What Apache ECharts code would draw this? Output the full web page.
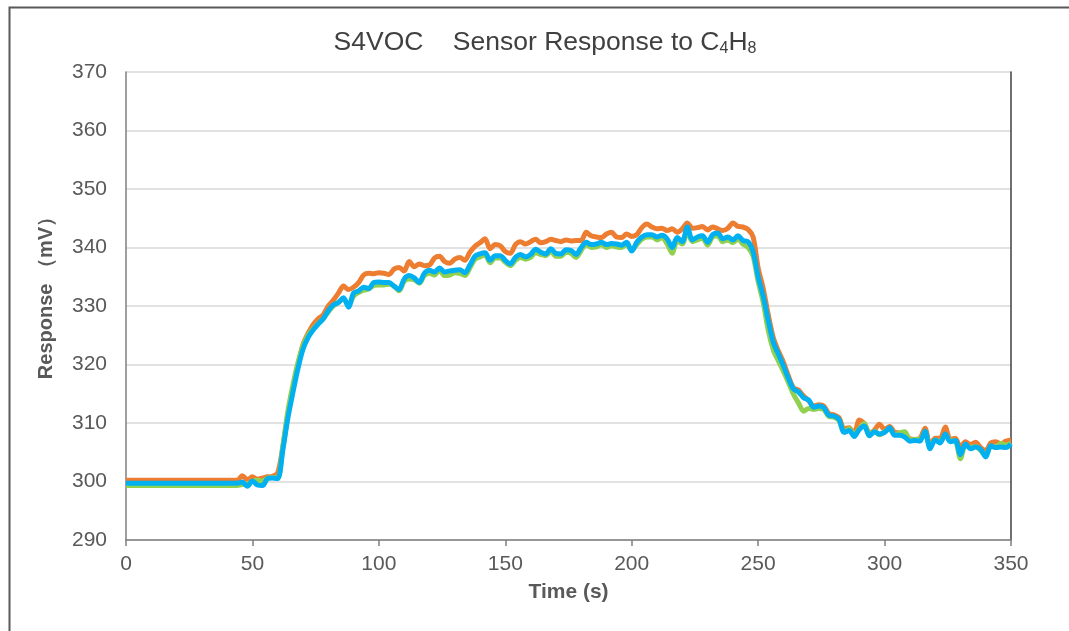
<!DOCTYPE html>
<html>
<head>
<meta charset="utf-8">
<script src="https://cdn.jsdelivr.net/npm/echarts@6/dist/echarts.min.js"></script>
<style>html,body{margin:0;padding:0;background:#fff;}#c{width:1069px;height:631px;}</style>
</head>
<body>
<div id="c"></div>
<script>
// sample times (s): every 2 s from 0 to 350
const STEP = 2;
const time = Array.from({length: 176}, (_, i) => i * STEP);

const xTicks = [0, 50, 100, 150, 200, 250, 300, 350];
const yTicks = [290, 300, 310, 320, 330, 340, 350, 360, 370];

const orange = [
  300.2,300.2,300.2,300.2,300.2,300.2,300.2,300.2,300.2,300.2,
  300.2,300.2,300.2,300.2,300.2,300.2,300.2,300.2,300.2,300.2,
  300.2,300.2,300.2,301.0,300.3,300.8,300.4,300.6,300.8,300.9,
  301.5,305.8,311.3,315.8,319.9,323.4,325.3,326.8,327.8,328.5,
  330.0,331.0,332.2,333.4,332.8,333.2,334.0,335.3,335.6,335.5,
  335.7,335.6,335.4,336.3,336.6,336.0,337.6,336.7,337.2,336.9,
  337.0,338.2,338.5,337.6,337.3,338.0,338.3,337.8,339.2,340.2,
  340.8,341.5,339.8,340.5,340.3,339.3,339.0,340.5,341.0,340.6,
  341.0,341.4,340.8,341.0,341.4,341.2,341.0,341.3,341.1,341.2,
  341.2,342.6,342.0,341.8,341.7,342.3,342.6,341.8,341.7,342.3,
  341.9,342.2,343.4,344.0,343.5,343.2,343.3,342.9,343.2,342.6,
  343.2,344.2,343.3,343.4,343.6,343.0,343.5,343.2,342.9,343.3,
  344.2,343.6,343.5,343.1,341.8,336.5,333.0,328.5,324.6,322.3,
  320.4,318.0,316.0,315.6,314.6,313.8,312.9,313.1,312.9,311.6,
  311.4,310.9,309.0,309.2,308.2,310.5,309.9,308.3,308.8,309.8,
  308.9,309.4,308.4,308.3,308.0,307.3,307.2,307.4,309.1,306.2,
  307.4,307.4,309.3,307.2,307.4,305.8,306.8,306.3,306.7,305.8,
  305.3,306.6,306.8,306.4,306.9,307.1
];

const green = [
  299.3,299.3,299.3,299.3,299.3,299.3,299.3,299.3,299.3,299.3,
  299.3,299.3,299.3,299.3,299.3,299.3,299.3,299.3,299.3,299.3,
  299.3,299.3,299.3,299.5,299.6,300.0,300.2,300.1,300.6,300.7,
  300.6,306.0,312.0,316.5,320.3,323.2,325.0,326.1,327.0,327.8,
  329.0,330.0,330.6,331.2,330.2,331.7,332.3,332.7,332.9,333.5,
  333.6,333.6,333.7,333.4,332.6,334.2,334.6,334.5,333.9,335.2,
  335.6,335.3,336.1,335.2,335.3,335.7,335.6,335.2,336.5,338.0,
  338.4,338.7,337.4,338.2,338.2,337.5,336.9,337.8,338.3,338.0,
  338.3,339.1,338.8,338.6,339.4,338.5,338.5,339.2,339.0,338.3,
  339.5,340.5,340.0,340.1,340.5,340.0,340.3,340.1,340.0,340.5,
  339.5,340.5,341.4,341.8,341.8,341.3,341.7,340.6,339.0,341.2,
  340.6,342.8,341.0,341.3,341.6,340.4,341.8,342.0,341.0,341.3,
  340.8,341.5,340.6,340.0,338.5,334.2,330.6,325.8,322.5,320.6,
  318.8,316.9,314.9,313.4,312.0,312.5,312.3,312.5,312.3,311.1,
  311.0,310.4,308.5,309.0,308.0,309.0,309.9,308.0,308.6,308.0,
  308.5,309.0,308.0,308.3,308.5,307.1,307.2,307.2,308.5,305.9,
  307.1,306.8,308.0,307.0,306.9,303.9,306.2,305.8,306.0,305.3,
  304.5,306.0,305.9,306.5,306.2,306.6
];

const blue = [
  299.7,299.7,299.7,299.7,299.7,299.7,299.7,299.7,299.7,299.7,
  299.7,299.7,299.7,299.7,299.7,299.7,299.7,299.7,299.7,299.7,
  299.7,299.7,299.7,299.9,299.2,300.1,299.4,299.3,300.5,300.6,
  300.5,305.3,310.8,315.2,319.3,322.6,324.6,325.9,326.9,327.8,
  329.2,330.2,330.6,331.4,329.8,332.2,332.6,333.2,333.0,334.0,
  334.1,334.0,334.0,333.4,332.8,334.6,335.2,334.8,334.0,335.6,
  336.1,335.8,336.5,335.8,336.0,336.1,336.2,335.7,337.0,338.5,
  338.9,339.1,337.8,338.6,338.6,337.8,337.2,338.3,338.8,338.4,
  338.8,339.7,339.2,338.9,339.8,339.0,338.9,339.6,339.5,338.8,
  340.0,340.9,340.5,340.6,340.9,340.5,340.7,340.6,340.4,340.9,
  339.4,340.9,341.8,342.2,342.2,341.8,342.1,341.5,340.0,341.7,
  341.0,343.5,341.3,341.8,342.0,340.9,342.2,342.5,341.5,341.8,
  341.3,342.0,341.2,341.0,339.3,335.0,331.7,327.5,323.8,321.8,
  319.8,317.6,315.8,315.3,314.3,313.9,312.7,312.9,312.6,311.3,
  311.2,310.6,308.4,308.7,307.7,308.9,309.5,307.8,308.5,308.1,
  308.4,309.2,307.9,307.9,307.6,306.9,307.0,306.9,308.6,305.6,
  307.1,306.6,308.1,306.8,307.0,304.6,306.4,305.6,305.9,305.5,
  304.2,306.1,305.8,305.9,305.8,306.4
];

const seriesNames = ['S4VOC-1', 'S4VOC-2', 'S4VOC-3'];
const seriesColors = ['#ED7D31', '#92D050', '#00B0F0'];
const seriesValues = [orange, green, blue];

const FONT = "'Liberation Sans', Arial, sans-serif";

const chart = echarts.init(document.getElementById('c'), null, {renderer: 'canvas'});

const option = {
  animation: false,
  backgroundColor: '#ffffff',
  title: {
    text: 'S4VOC    Sensor Response to C{s|4}H{s|8}',
    left: 540,
    textAlign: 'center',
    top: 24,
    textStyle: {
      fontFamily: FONT, fontSize: 26.5, fontWeight: 'normal', color: '#404040',
      rich: { s: { fontFamily: FONT, fontSize: 16, color: '#404040', verticalAlign: 'bottom', padding: [12, 0, 0, 0] } }
    }
  },
  grid: { left: 126, right: 58, top: 72, bottom: 91, containLabel: false },
  xAxis: {
    type: 'value', min: xTicks[0], max: xTicks[xTicks.length - 1], interval: 50,
    name: 'Time (s)', nameLocation: 'middle', nameGap: 42,
    nameTextStyle: { fontFamily: FONT, fontSize: 21, fontWeight: 'bold', color: '#595959' },
    axisLine: { show: true, lineStyle: { color: '#7f7f7f', width: 1.5 } },
    axisTick: { show: true, length: 6, lineStyle: { color: '#7f7f7f', width: 1.5 } },
    axisLabel: { fontFamily: FONT, fontSize: 21, color: '#595959', margin: 14 },
    splitLine: { show: false }
  },
  yAxis: [{
    type: 'value', min: yTicks[0], max: yTicks[yTicks.length - 1], interval: 10,
    name: 'Response （mV）', nameLocation: 'middle', nameGap: 70, nameRotate: 90,
    nameTextStyle: { fontFamily: FONT, fontSize: 20, fontWeight: 'bold', color: '#595959', padding: [0, 0, 0, 26] },
    axisLine: { show: true, lineStyle: { color: '#7f7f7f', width: 1.5 } },
    axisTick: { show: false },
    axisLabel: { fontFamily: FONT, fontSize: 21, color: '#595959', margin: 19 },
    splitLine: { show: true, lineStyle: { color: '#d9d9d9', width: 1.5 } }
  }, {
    type: 'value', position: 'right', min: yTicks[0], max: yTicks[yTicks.length - 1], interval: 10,
    axisLine: { show: true, lineStyle: { color: '#404040', width: 1.5 } },
    axisTick: { show: false }, axisLabel: { show: false }, splitLine: { show: false }
  }],
  graphic: [{
    type: 'rect', left: 7, top: 5, shape: { width: 1200, height: 800 },
    style: { fill: 'none', stroke: '#595959', lineWidth: 2 }, silent: true
  }],
  series: seriesValues.map((vals, k) => ({
    name: seriesNames[k], type: 'line', yAxisIndex: 0,
    data: vals.map((v, i) => [time[i], v]),
    showSymbol: false, smooth: 0.3,
    lineStyle: { color: seriesColors[k], width: 5 },
    itemStyle: { color: seriesColors[k] },
    z: 2 + k
  }))
};
chart.setOption(option);
</script>
</body>
</html>
